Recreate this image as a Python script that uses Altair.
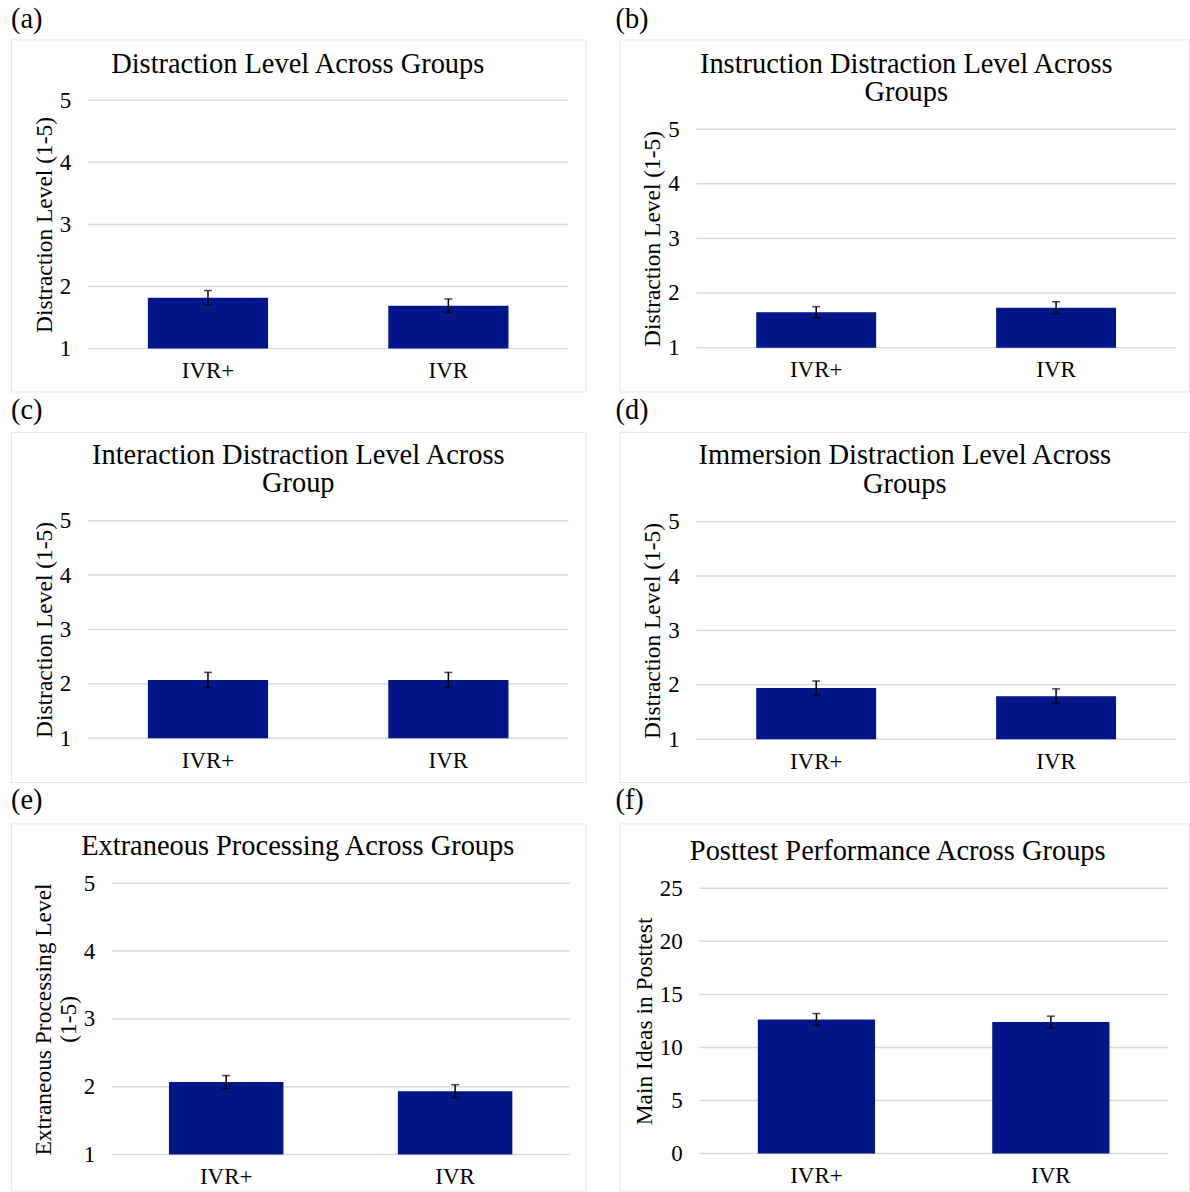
import altair as alt
import pandas as pd

FONT = "Liberation Serif"
BAR = "#001689"

groups = ["IVR+", "IVR"]

panel_letters = ["(a)", "(b)", "(c)", "(d)", "(e)", "(f)"]
panel_titles = [
    ["Distraction Level Across Groups"],
    ["Instruction Distraction Level Across", "Groups"],
    ["Interaction Distraction Level Across", "Group"],
    ["Immersion Distraction Level Across", "Groups"],
    ["Extraneous Processing Across Groups"],
    ["Posttest Performance Across Groups"],
]
y_titles = [
    "Distraction Level (1-5)",
    "Distraction Level (1-5)",
    "Distraction Level (1-5)",
    "Distraction Level (1-5)",
    ["Extraneous Processing Level", "(1-5)"],
    "Main Ideas in Posttest",
]

means_a = [1.82, 1.69]
errs_a = [0.115, 0.11]
means_b = [1.65, 1.73]
errs_b = [0.10, 0.11]
means_c = [2.07, 2.07]
errs_c = [0.14, 0.14]
means_d = [1.94, 1.79]
errs_d = [0.13, 0.135]
means_e = [2.07, 1.935]
errs_e = [0.095, 0.095]
means_f = [12.64, 12.39]
errs_f = [0.56, 0.56]

means = [means_a, means_b, means_c, means_d, means_e, means_f]
errs = [errs_a, errs_b, errs_c, errs_d, errs_e, errs_f]

y_domains = [[1, 5]] * 5 + [[0, 25]]
y_ticks = [[1, 2, 3, 4, 5]] * 5 + [[0, 5, 10, 15, 20, 25]]

# layout geometry in pixels: each panel box (w, h) and plot area inside it
geom = [
    dict(w=576, h=353, px=(77, 559), py=(61, 310), label=(0, -11), cx=287.5, base=[34]),
    dict(w=571, h=353, px=(77, 558), py=(90, 309), label=(-4, -11), cx=287.5, base=[33.3, 61.5]),
    dict(w=576, h=351, px=(77, 559), py=(89, 307), label=(0, -13), cx=288, base=[32, 60.7]),
    dict(w=571, h=351, px=(77, 558), py=(90, 308), label=(-4, -13), cx=286, base=[32.3, 61]),
    dict(w=576, h=368, px=(101, 560), py=(60, 332), label=(0, -14), cx=287.5, base=[32]),
    dict(w=571, h=368, px=(80, 550), py=(65, 331), label=(-4, -14), cx=279, base=[36.7]),
]

one = pd.DataFrame({"k": [0]})


def make_panel(i):
    g = geom[i]
    df = pd.DataFrame({"group": groups, "mean": means[i], "err": errs[i]})
    df["lo"] = df["mean"] - df["err"]
    df["hi"] = df["mean"] + df["err"]
    ticks_df = pd.DataFrame({"v": y_ticks[i]})
    dom = y_domains[i]
    pl, pr = g["px"]
    pt, pb = g["py"]

    xenc = alt.X(
        "group:N",
        sort=groups,
        scale=alt.Scale(range=[pl, pr], paddingInner=0.5, paddingOuter=0.25),
        axis=alt.Axis(
            title=None, labelAngle=0, labelPadding=11, grid=False,
            offset=pb - g["h"],
        ),
    )
    yaxis = alt.Axis(
        values=y_ticks[i],
        title=y_titles[i],
        titlePadding=3,
        labelPadding=17,
        grid=False,
        offset=-pl,
    )
    yscale = alt.Scale(domain=dom, zero=False, nice=False, range=[pb, pt])

    grid = alt.Chart(ticks_df).mark_rule(color="#d9d9d9", strokeWidth=1.5).encode(
        y=alt.Y("v:Q", scale=yscale, axis=yaxis),
        x=alt.value(pl),
        x2=alt.value(pr),
    )

    base = alt.Chart(df)
    bars = base.mark_bar(color=BAR).encode(
        x=xenc,
        y=alt.Y("mean:Q", scale=yscale, axis=yaxis),
        y2=alt.datum(dom[0]),
    )
    rule = base.mark_rule(color="black", strokeWidth=1.5).encode(
        x=xenc,
        y=alt.Y("lo:Q", scale=yscale, axis=yaxis),
        y2="hi:Q",
    )
    cap_hi = base.mark_tick(orient="horizontal", size=8, thickness=1.5, color="black").encode(
        x=xenc, y=alt.Y("hi:Q", scale=yscale, axis=yaxis)
    )
    cap_lo = base.mark_tick(orient="horizontal", size=8, thickness=1.5, color="black").encode(
        x=xenc, y=alt.Y("lo:Q", scale=yscale, axis=yaxis)
    )

    lx, ly = g["label"]
    letter = alt.Chart(one).mark_text(
        text=panel_letters[i], align="left", baseline="alphabetic",
        font=FONT, fontSize=28.5, color="black",
    ).encode(x=alt.value(lx), y=alt.value(ly))

    titles = []
    for line, by in zip(panel_titles[i], g["base"]):
        titles.append(
            alt.Chart(one).mark_text(
                text=line, align="center", baseline="alphabetic",
                font=FONT, fontSize=28.5, color="black",
            ).encode(x=alt.value(g["cx"]), y=alt.value(by))
        )

    return alt.layer(grid, bars, rule, cap_hi, cap_lo, letter, *titles).properties(
        width=g["w"], height=g["h"]
    )


panels = [make_panel(i) for i in range(6)]

row1 = alt.hconcat(panels[0], panels[1], spacing=28)
row2 = alt.hconcat(panels[2], panels[3], spacing=28)
row3 = alt.hconcat(panels[4], panels[5], spacing=28)

chart = (
    alt.vconcat(row1, row2, row3, spacing=2.5)
    .properties(padding={"left": 10, "top": 3, "right": 0, "bottom": 0}, background="white")
    .configure_view(stroke="#e6e6e6", strokeWidth=1)
    .configure_axis(
        labelFont=FONT,
        labelFontSize=23,
        labelColor="black",
        titleFont=FONT,
        titleFontSize=23.5,
        titleFontWeight="normal",
        titleColor="black",
        titleLineHeight=25,
        domain=False,
        ticks=False,
    )
)

chart.save("out.html", embed_options={"renderer": "svg", "actions": False})
